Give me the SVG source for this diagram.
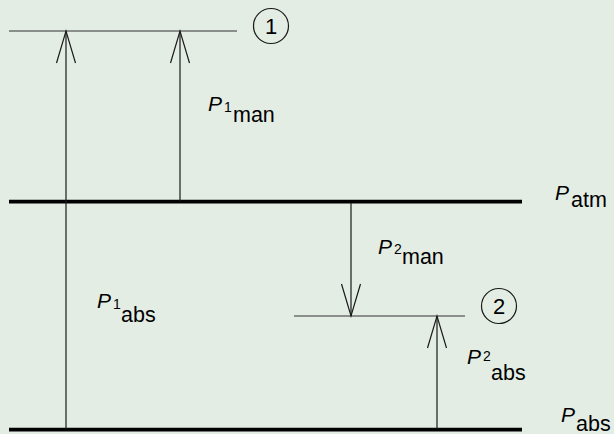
<svg xmlns="http://www.w3.org/2000/svg" width="614" height="434" viewBox="0 0 614 434">
  <defs>
    <marker id="arr" markerUnits="userSpaceOnUse" markerWidth="40" markerHeight="24" viewBox="-34 -12 36 24" refX="0" refY="0" orient="auto" overflow="visible">
      <path d="M-32,-9.5 L0,0 L-32,9.5" fill="none" stroke="#1a1a1a" stroke-width="1.2"/>
    </marker>
  </defs>
  <style>
    .thin { stroke: #333; stroke-width: 1.2; fill: none; }
    .thick { stroke: #000; stroke-width: 3.8; fill: none; }
    .arrow { stroke: #1a1a1a; stroke-width: 1.2; fill: none; marker-end: url(#arr); }
    .lbl { font-family: "Liberation Sans", Arial, sans-serif; fill: #000; font-size: 22px; }
    .P { font-style: italic; font-size: 21px; }
    .sub1 { font-size: 14px; }
    .sub2 { font-size: 21.5px; }
    .circ { stroke: #1a1a1a; stroke-width: 1.2; fill: none; }
    .cnum { font-family: "Liberation Sans", Arial, sans-serif; font-size: 22px; fill: #000; text-anchor: middle; }
  </style>
  <rect width="614" height="434" fill="#e3ede4"/>

  <g id="level1">
    <line class="thin" x1="9" y1="31" x2="237" y2="31"/>
  </g>
  <g id="marker1">
    <circle class="circ" cx="271" cy="26" r="17.5"/>
    <text class="cnum" x="271" y="34">1</text>
  </g>
  <g id="atm">
    <line class="thick" x1="9" y1="201.7" x2="522" y2="201.7"/>
    <text class="lbl" x="555" y="200"><tspan class="P">P</tspan><tspan class="sub2" x="571" y="207">atm</tspan></text>
  </g>
  <g id="level2">
    <line class="thin" x1="294" y1="316" x2="465" y2="316"/>
  </g>
  <g id="marker2">
    <circle class="circ" cx="499" cy="306" r="17.5"/>
    <text class="cnum" x="499" y="314">2</text>
  </g>
  <g id="abs">
    <line class="thick" x1="9" y1="429.7" x2="522" y2="429.7"/>
    <text class="lbl" x="561" y="422"><tspan class="P">P</tspan><tspan class="sub2" x="576" y="431">abs</tspan></text>
  </g>

  <g id="connectors">
    <line class="arrow" x1="66" y1="429" x2="66" y2="31"/>
    <line class="arrow" x1="180" y1="201" x2="180" y2="31"/>
    <line class="arrow" x1="351" y1="203" x2="351" y2="316"/>
    <line class="arrow" x1="437" y1="429" x2="437" y2="316"/>
  </g>

  <g id="label-p1man">
    <text class="lbl" x="208" y="111"><tspan class="P">P</tspan><tspan class="sub1" x="224" y="112">1</tspan><tspan class="sub2" x="233" y="122">man</tspan></text>
  </g>
  <g id="label-p2man">
    <text class="lbl" x="378" y="254"><tspan class="P">P</tspan><tspan class="sub1" x="394" y="254">2</tspan><tspan class="sub2" x="402" y="264">man</tspan></text>
  </g>
  <g id="label-p1abs">
    <text class="lbl" x="97" y="308"><tspan class="P">P</tspan><tspan class="sub1" x="113" y="309">1</tspan><tspan class="sub2" x="121" y="322">abs</tspan></text>
  </g>
  <g id="label-p2abs">
    <text class="lbl" x="467" y="364"><tspan class="P">P</tspan><tspan class="sub1" x="483" y="361">2</tspan><tspan class="sub2" x="491" y="380">abs</tspan></text>
  </g>
</svg>
